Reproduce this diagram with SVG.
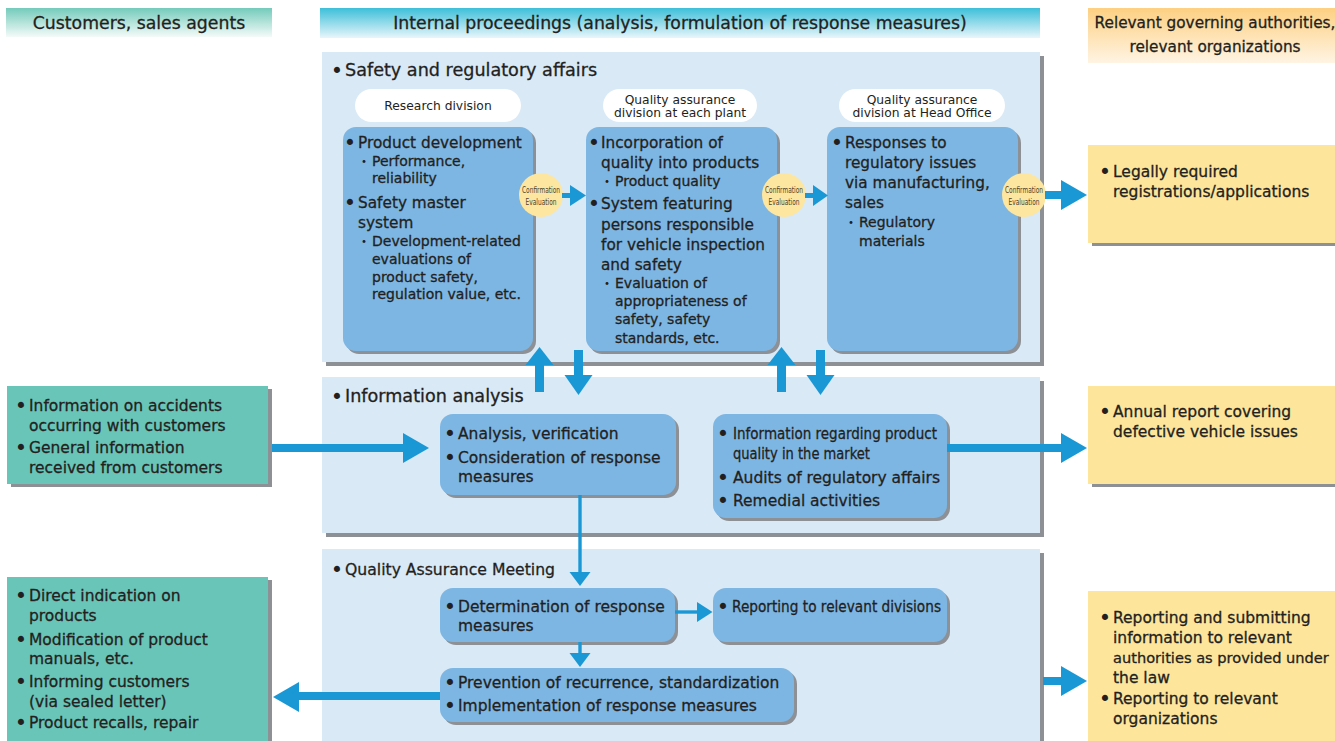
<svg xmlns="http://www.w3.org/2000/svg" width="1335" height="741" viewBox="0 0 1335 741">
<defs>
<linearGradient id="gTeal" x1="0" y1="0" x2="0" y2="1"><stop offset="0" stop-color="#74cbbb"/><stop offset="1" stop-color="#f4fbf9"/></linearGradient>
<linearGradient id="gCyan" x1="0" y1="0" x2="0" y2="1"><stop offset="0" stop-color="#3dbfd8"/><stop offset="1" stop-color="#e8f6fa"/></linearGradient>
<linearGradient id="gOrange" x1="0" y1="0" x2="0" y2="1"><stop offset="0" stop-color="#fdd082"/><stop offset="1" stop-color="#fff4e3"/></linearGradient>
</defs>
<style>
text{font-family:"DejaVu Sans","Noto Sans CJK JP",sans-serif;fill:#231f20;stroke:#231f20;stroke-width:0.3px}
.hd{font-size:17.3px;text-anchor:middle}
.hr{font-size:15.3px;text-anchor:middle}
.pt{font-size:17.6px}
.pl{font-size:12.3px;text-anchor:middle;stroke:none}
.m{font-size:15.3px}
.s{font-size:14px}
.b{text-anchor:middle;font-size:21px;stroke:none}
.t{font-size:15.5px}
.ce{font-size:8.5px;text-anchor:middle;fill:#4a3f2b;stroke:none}
.panel{fill:#d9e9f6}
.sh{fill:#8d9196}
.box{fill:#7db6e3}
.teal{fill:#69c5b8}
.yel{fill:#fee59c}
.pill{fill:#ffffff}
.circ{fill:#fde6a0}
.arr{fill:#1a98d5}
.ln{stroke:#1a98d5;stroke-width:3.4;fill:none}
.sb{text-anchor:middle;font-size:14px;stroke:none}
</style>

<g id="header-customers">
<rect x="6" y="8" width="266" height="29" fill="url(#gTeal)"/>
<text class="hd" x="139" y="28.5">Customers, sales agents</text>
</g>
<g id="header-internal">
<rect x="320" y="8" width="720" height="30" fill="url(#gCyan)"/>
<text class="hd" x="680" y="28.5">Internal proceedings (analysis, formulation of response measures)</text>
</g>
<g id="header-authorities">
<rect x="1088" y="8" width="260" height="55" fill="url(#gOrange)"/>
<text class="hr" x="1215" y="28">Relevant governing authorities,</text>
<text class="hr" x="1215" y="52">relevant organizations</text>
</g>

<g id="panel-safety">
<rect class="sh" x="326" y="56" width="718" height="310"/>
<rect class="panel" x="322" y="52" width="718" height="310"/>
<text class="b" x="337" y="77.5">•</text>
<text class="pt" x="345" y="76">Safety and regulatory affairs</text>
</g>
<g id="panel-info">
<rect class="sh" x="326" y="381" width="718" height="156"/>
<rect class="panel" x="322" y="377" width="718" height="156"/>
<text class="b" x="337" y="403.5">•</text>
<text class="pt" x="345" y="402">Information analysis</text>
</g>
<g id="panel-qa">
<rect class="sh" x="326" y="553" width="718" height="200"/>
<rect class="panel" x="322" y="549" width="718" height="200"/>
<text class="b" x="337" y="576.5">•</text>
<text x="345" y="575" style="font-size:16px" textLength="210" lengthAdjust="spacingAndGlyphs">Quality Assurance Meeting</text>
</g>

<g id="label-research">
<rect class="pill" x="355" y="89" width="166" height="33" rx="16.5"/>
<text class="pl" x="438" y="110">Research division</text>
</g>
<g id="label-qa-plant">
<rect class="pill" x="603" y="89" width="154" height="33" rx="16.5"/>
<text class="pl" x="680" y="104">Quality assurance</text>
<text class="pl" x="680" y="116.5">division at each plant</text>
</g>
<g id="label-qa-head">
<rect class="pill" x="839" y="89" width="166" height="33" rx="16.5"/>
<text class="pl" x="922" y="104">Quality assurance</text>
<text class="pl" x="922" y="116.5">division at Head Office</text>
</g>

<g id="box-research">
<rect class="sh" x="346" y="130" width="190" height="224" rx="13"/>
<rect class="box" x="343" y="127" width="190" height="224" rx="13"/>
<text class="b" x="350" y="149.5">•</text>
<text class="m" x="358" y="148">Product development</text>
<text class="sb" x="364" y="166">・</text>
<text class="s" x="372" y="166">Performance,</text>
<text class="s" x="372" y="183">reliability</text>
<text class="b" x="350" y="209.5">•</text>
<text class="m" x="358" y="208">Safety master</text>
<text class="m" x="358" y="228">system</text>
<text class="sb" x="364" y="246">・</text>
<text class="s" x="372" y="246">Development-related</text>
<text class="s" x="372" y="264">evaluations of</text>
<text class="s" x="372" y="281.5">product safety,</text>
<text class="s" x="372" y="299">regulation value, etc.</text>
</g>

<g id="box-plant">
<rect class="sh" x="589" y="130" width="191" height="224" rx="13"/>
<rect class="box" x="586" y="127" width="191" height="224" rx="13"/>
<text class="b" x="594" y="149.5">•</text>
<text class="m" x="601" y="148">Incorporation of</text>
<text class="m" x="601" y="168">quality into products</text>
<text class="sb" x="607" y="186">・</text>
<text class="s" x="615" y="186">Product quality</text>
<text class="b" x="594" y="210.5">•</text>
<text class="m" x="601" y="209">System featuring</text>
<text class="m" x="601" y="230">persons responsible</text>
<text class="m" x="601" y="250">for vehicle inspection</text>
<text class="m" x="601" y="270">and safety</text>
<text class="sb" x="607" y="288">・</text>
<text class="s" x="615" y="288">Evaluation of</text>
<text class="s" x="615" y="306">appropriateness of</text>
<text class="s" x="615" y="324">safety, safety</text>
<text class="s" x="615" y="343">standards, etc.</text>
</g>

<g id="box-headoffice">
<rect class="sh" x="830" y="130" width="191" height="224" rx="13"/>
<rect class="box" x="827" y="127" width="191" height="224" rx="13"/>
<text class="b" x="837" y="149.5">•</text>
<text class="m" x="845" y="148">Responses to</text>
<text class="m" x="845" y="167.5">regulatory issues</text>
<text class="m" x="845" y="188">via manufacturing,</text>
<text class="m" x="845" y="208">sales</text>
<text class="sb" x="851" y="227">・</text>
<text class="s" x="859" y="227">Regulatory</text>
<text class="s" x="859" y="246">materials</text>
</g>

<g id="eval-1">
<circle class="circ" cx="541" cy="195" r="22"/>
<text class="ce" x="541" y="193" textLength="38" lengthAdjust="spacingAndGlyphs">Confirmation</text>
<text class="ce" x="541" y="205" textLength="31" lengthAdjust="spacingAndGlyphs">Evaluation</text>
</g>
<g id="eval-2">
<circle class="circ" cx="784" cy="195" r="22"/>
<text class="ce" x="784" y="193" textLength="38" lengthAdjust="spacingAndGlyphs">Confirmation</text>
<text class="ce" x="784" y="205" textLength="31" lengthAdjust="spacingAndGlyphs">Evaluation</text>
</g>
<g id="eval-3">
<circle class="circ" cx="1024" cy="195" r="22"/>
<text class="ce" x="1024" y="193" textLength="38" lengthAdjust="spacingAndGlyphs">Confirmation</text>
<text class="ce" x="1024" y="205" textLength="31" lengthAdjust="spacingAndGlyphs">Evaluation</text>
</g>

<g id="box-analysis">
<rect class="sh" x="443" y="417" width="236" height="81" rx="13"/>
<rect class="box" x="440" y="414" width="236" height="81" rx="13"/>
<text class="b" x="450" y="440.5">•</text>
<text class="t" x="458" y="439">Analysis, verification</text>
<text class="b" x="450" y="464.5">•</text>
<text class="t" x="458" y="463">Consideration of response</text>
<text class="t" x="458" y="482">measures</text>
</g>

<g id="box-market">
<rect class="sh" x="716" y="417" width="234" height="104" rx="13"/>
<rect class="box" x="713" y="414" width="234" height="104" rx="13"/>
<text class="b" x="723" y="440.5">•</text>
<text x="733" y="439" style="font-size:15px" textLength="204" lengthAdjust="spacingAndGlyphs">Information regarding product</text>
<text x="733" y="459" style="font-size:15px" textLength="137" lengthAdjust="spacingAndGlyphs">quality in the market</text>
<text class="b" x="723" y="484.5">•</text>
<text class="t" x="733" y="483">Audits of regulatory affairs</text>
<text class="b" x="723" y="507.5">•</text>
<text class="t" x="733" y="506">Remedial activities</text>
</g>

<g id="box-determination">
<rect class="sh" x="443" y="591" width="235" height="54" rx="13"/>
<rect class="box" x="440" y="588" width="235" height="54" rx="13"/>
<text class="b" x="450" y="613.5">•</text>
<text class="t" x="458" y="612">Determination of response</text>
<text class="t" x="458" y="631">measures</text>
</g>

<g id="box-reporting-divisions">
<rect class="sh" x="716" y="591" width="234" height="54" rx="13"/>
<rect class="box" x="713" y="588" width="234" height="54" rx="13"/>
<text class="b" x="723" y="613.5">•</text>
<text x="732" y="612" style="font-size:15px" textLength="209" lengthAdjust="spacingAndGlyphs">Reporting to relevant divisions</text>
</g>

<g id="box-prevention">
<rect class="sh" x="443" y="671" width="354" height="54" rx="13"/>
<rect class="box" x="440" y="668" width="354" height="54" rx="13"/>
<text class="b" x="450" y="689.5">•</text>
<text class="t" x="458" y="688">Prevention of recurrence, standardization</text>
<text class="b" x="450" y="712.5">•</text>
<text class="t" x="458" y="711">Implementation of response measures</text>
</g>

<g id="cust-info">
<rect class="sh" x="11" y="389" width="261" height="98"/>
<rect class="teal" x="7" y="386" width="261" height="98"/>
<text class="b" x="21" y="412.5">•</text>
<text class="t" x="29" y="411">Information on accidents</text>
<text class="t" x="29" y="431">occurring with customers</text>
<text class="b" x="21" y="454.5">•</text>
<text class="t" x="29" y="453">General information</text>
<text class="t" x="29" y="473">received from customers</text>
</g>

<g id="cust-actions">
<rect class="sh" x="11" y="580" width="261" height="170"/>
<rect class="teal" x="7" y="577" width="261" height="170"/>
<text class="b" x="21" y="602.5">•</text>
<text class="t" x="29" y="601">Direct indication on</text>
<text class="t" x="29" y="621">products</text>
<text class="b" x="21" y="646.5">•</text>
<text class="t" x="29" y="645">Modification of product</text>
<text class="t" x="29" y="664">manuals, etc.</text>
<text class="b" x="21" y="688.5">•</text>
<text class="t" x="29" y="687">Informing customers</text>
<text class="t" x="29" y="707">(via sealed letter)</text>
<text class="b" x="21" y="729.5">•</text>
<text class="t" x="29" y="728">Product recalls, repair</text>
</g>

<g id="auth-registrations">
<rect class="sh" x="1092" y="148" width="260" height="98"/>
<rect class="yel" x="1088" y="145" width="260" height="98"/>
<text class="b" x="1105" y="178.5">•</text>
<text class="t" x="1113" y="177">Legally required</text>
<text class="t" x="1113" y="197">registrations/applications</text>
</g>

<g id="auth-annual">
<rect class="sh" x="1092" y="389" width="260" height="98"/>
<rect class="yel" x="1088" y="386" width="260" height="98"/>
<text class="b" x="1105" y="418.5">•</text>
<text class="t" x="1113" y="417">Annual report covering</text>
<text class="t" x="1113" y="437">defective vehicle issues</text>
</g>

<g id="auth-reporting">
<rect class="sh" x="1092" y="594" width="260" height="160"/>
<rect class="yel" x="1088" y="591" width="260" height="160"/>
<text class="b" x="1105" y="624.5">•</text>
<text class="t" x="1113" y="623">Reporting and submitting</text>
<text class="t" x="1113" y="643">information to relevant</text>
<text x="1113" y="663" style="font-size:14.6px">authorities as provided under</text>
<text class="t" x="1113" y="683">the law</text>
<text class="b" x="1105" y="705.5">•</text>
<text class="t" x="1113" y="704">Reporting to relevant</text>
<text class="t" x="1113" y="724">organizations</text>
</g>

<g id="connectors">
<rect class="arr" x="562" y="193" width="9" height="5"/>
<polygon class="arr" points="570,185 586,195.5 570,206"/>
<rect class="arr" x="805" y="193" width="9" height="5"/>
<polygon class="arr" points="813,185 828,195.5 813,206"/>
<rect class="arr" x="1045" y="191" width="17" height="8"/>
<polygon class="arr" points="1061,180 1087,195 1061,210"/>
<rect class="arr" x="535" y="363" width="9" height="29"/>
<polygon class="arr" points="525.5,365 539.5,347 553.5,365"/>
<rect class="arr" x="574" y="350" width="9" height="26"/>
<polygon class="arr" points="564.5,375 592.5,375 578.5,395"/>
<rect class="arr" x="777" y="363" width="9" height="29"/>
<polygon class="arr" points="767.5,365 781.5,347 795.5,365"/>
<rect class="arr" x="816" y="350" width="9" height="26"/>
<polygon class="arr" points="806.5,375 834.5,375 820.5,395"/>
<rect class="arr" x="272" y="444" width="132" height="8"/>
<polygon class="arr" points="403,433 429,448 403,463"/>
<rect class="arr" x="947" y="444" width="115" height="8"/>
<polygon class="arr" points="1061,433 1087,448 1061,463"/>
<line class="ln" x1="580" y1="495" x2="580" y2="573"/>
<polygon class="arr" points="569.5,572 590.5,572 580,586"/>
<line class="ln" x1="675" y1="612" x2="698" y2="612"/>
<polygon class="arr" points="697,602 712.5,612 697,622"/>
<line class="ln" x1="580" y1="642" x2="580" y2="654"/>
<polygon class="arr" points="569.5,653 590.5,653 580,667"/>
<rect class="arr" x="298" y="692" width="142" height="8"/>
<polygon class="arr" points="299,682 273,697 299,712"/>
<rect class="arr" x="1043" y="677" width="19" height="8"/>
<polygon class="arr" points="1061,666 1087,681 1061,696"/>
</g>
</svg>
